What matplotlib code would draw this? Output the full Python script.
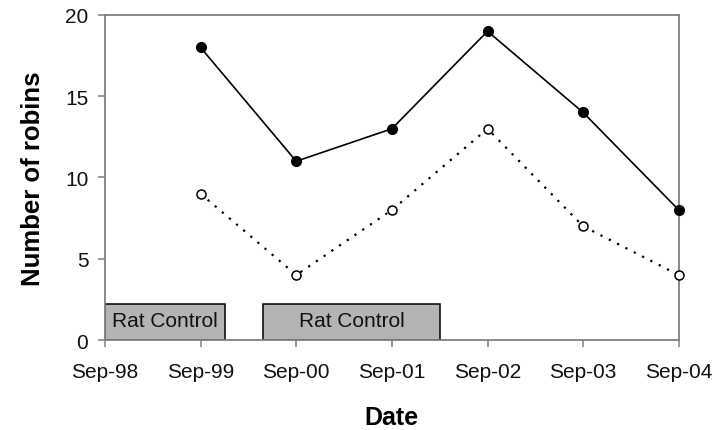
import matplotlib
matplotlib.use('Agg')
import matplotlib.pyplot as plt
from matplotlib.patches import Rectangle

# --- Data ---
date_labels = ['Sep-98', 'Sep-99', 'Sep-00', 'Sep-01', 'Sep-02', 'Sep-03', 'Sep-04']
survey_x    = [1, 2, 3, 4, 5, 6]
robins_a    = [18, 11, 13, 19, 14, 8]   # filled markers, solid line
robins_b    = [9, 4, 8, 13, 7, 4]       # open markers, dotted line

# rat control periods (start, end) in years since Sep-98
rat_control = [(0.0, 1.255), (1.657, 3.50)]
rat_label   = 'Rat Control'
rat_height  = 2.23

plt.rcParams['font.family'] = ['Liberation Sans', 'DejaVu Sans']

fig = plt.figure(figsize=(7.16, 4.31), dpi=100)
ax = fig.add_axes([0.1466, 0.2088, 0.8014, 0.7541])

for start, end in rat_control:
    ax.add_patch(Rectangle((start, 0), end - start, rat_height,
                           facecolor='#b4b4b4', edgecolor='black', lw=1.1, zorder=2))
    ax.text((start + end) / 2, rat_height / 2 + 0.1, rat_label, ha='center', va='center',
            fontsize=15, color='#111111', zorder=3)

ax.plot(survey_x, robins_a, '-', color='black', lw=1.2, marker='o',
        markersize=7, markerfacecolor='black', zorder=4, clip_on=False)
ax.plot(survey_x, robins_b, color='black', lw=1.6, linestyle=(0, (1, 3.2)),
        marker='o', markersize=6.5, markerfacecolor='white', markeredgewidth=1.1,
        zorder=4, clip_on=False)

ax.set_xlim(0, 6)
ax.set_ylim(0, 20)
ax.set_xticks(range(len(date_labels)))
ax.set_xticklabels(date_labels)
ax.set_yticks([0, 5, 10, 15, 20])

for sp in ax.spines.values():
    sp.set_color('#808080')
    sp.set_linewidth(1.3)
ax.tick_params(axis='both', direction='out', length=5, width=1.1, color='#808080',
               labelsize=15, labelcolor='#111111')
ax.tick_params(axis='x', pad=11)
ax.tick_params(axis='y', pad=7)

ax.set_xlabel('Date', fontsize=18, fontweight='bold', labelpad=17)
ax.set_ylabel('Number of robins', fontsize=18.5, fontweight='bold', labelpad=14)

fig.savefig('out.png', dpi=100)
